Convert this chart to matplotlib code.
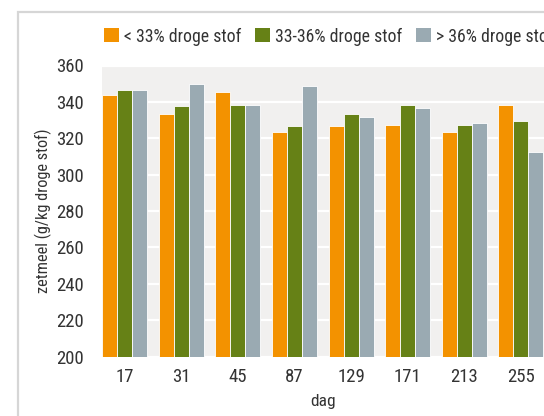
import numpy as np
import matplotlib
matplotlib.use("Agg")
import matplotlib.pyplot as plt
from matplotlib.patches import Rectangle, Patch

plt.rcParams['font.family'] = ['Roboto Condensed', 'Roboto', 'DejaVu Sans']

# data
days = ['17', '31', '45', '87', '129', '171', '213', '255']
series_names = ['< 33% droge stof', '33-36% droge stof', '> 36% droge stof']
low = [344, 333.5, 345.5, 323.5, 326.5, 327.5, 323.5, 338.5]
mid = [346.5, 338, 338.5, 326.5, 333.5, 338.5, 327.5, 329.5]
high = [346.5, 350, 338.5, 348.5, 331.5, 336.5, 328.5, 312.5]
colors = ['#F39200', '#668116', '#9AAAB2']

W, H = 544, 416
fig = plt.figure(figsize=(W / 100, H / 100), dpi=100)

# light frame around the chart (cut off at right/bottom)
fig.patches.append(Rectangle((18 / W, -0.1), 1.2, (H - 12) / H + 0.1,
                             transform=fig.transFigure, fill=False,
                             edgecolor='#d6d6d6', linewidth=1.6))

ax = fig.add_axes([102 / W, (H - 356.5) / H, (W - 102) / W, 291 / H])
ax.set_facecolor('#F1F0EF')

x = np.arange(len(days))
bw = 0.265
for i, vals in enumerate([low, mid, high]):
    ax.bar(x + (i - 1) * bw, np.array(vals) - 200, bw, bottom=200,
           color=colors[i], edgecolor='#ffffff', linewidth=0.6, zorder=3)

ax.set_ylim(200, 360)
ax.set_xlim(-0.4, 7.41)
ax.set_yticks(range(200, 361, 20))
ax.set_xticks(x)
ax.set_xticklabels(days)
ax.yaxis.grid(True, color='white', linewidth=1.6, zorder=1)
ax.set_axisbelow(True)
for s in ax.spines.values():
    s.set_visible(False)
ax.tick_params(length=0, labelsize=13.5, colors='#333333')
ax.tick_params(axis='y', pad=13)
ax.tick_params(axis='x', pad=8)
ax.set_ylabel('zetmeel (g/kg droge stof)', fontsize=11.8, color='#333333', labelpad=3)
ax.set_xlabel('dag', fontsize=12.5, color='#333333', labelpad=6)

handles = [Patch(facecolor=c, edgecolor='none') for c in colors]
fig.legend(handles, series_names, loc='center left',
           bbox_to_anchor=(88 / W, (H - 36.5) / H), ncol=3, frameon=False,
           fontsize=12.8, handlelength=0.85, handleheight=0.85,
           handletextpad=0.3, columnspacing=0.75, labelcolor='#333333')

fig.savefig('out.png', dpi=100)
